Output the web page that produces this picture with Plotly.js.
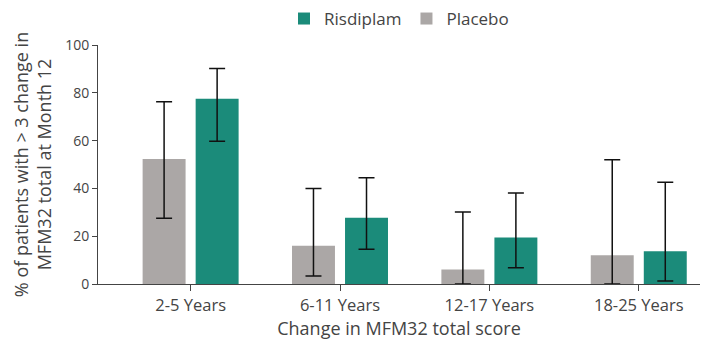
<!DOCTYPE html>
<html><head><meta charset="utf-8">
<script src="https://cdn.plot.ly/plotly-3.0.1.min.js"></script>
<style>html,body{margin:0;padding:0;background:#fff}#chart{width:709px;height:345px}</style>
</head><body><div id="chart"></div>
<script>
const categories = ["2-5 Years", "6-11 Years", "12-17 Years", "18-25 Years"];
const placebo = [52.3, 16.0, 6.1, 12.0];
const placeboUpper = [76.3, 40.0, 30.1, 52.0];
const placeboLower = [27.5, 3.3, 0, 0];
const risdiplam = [77.5, 27.7, 19.5, 13.7];
const risdiplamUpper = [90.2, 44.5, 38.1, 42.6];
const risdiplamLower = [59.7, 14.5, 6.8, 1.3];

const diff = (a, b) => a.map((v, i) => v - b[i]);
const font = "Open Sans, Noto Sans, sans-serif";

const errStyle = {type: "data", symmetric: false, color: "#111", thickness: 1.5, width: 8};

const traces = [
  {type: "bar", name: "Placebo", x: categories, y: placebo, marker: {color: "#aba7a6"},
   error_y: Object.assign({array: diff(placeboUpper, placebo), arrayminus: diff(placebo, placeboLower)}, errStyle),
   legendrank: 2},
  {type: "bar", name: "Risdiplam", x: categories, y: risdiplam, marker: {color: "#1b8b7a"},
   error_y: Object.assign({array: diff(risdiplamUpper, risdiplam), arrayminus: diff(risdiplam, risdiplamLower)}, errStyle),
   legendrank: 1}
];

const layout = {
  width: 709, height: 345,
  margin: {l: 98, r: 9, t: 45, b: 61, autoexpand: false},
  paper_bgcolor: "#fff", plot_bgcolor: "#fff",
  font: {family: font, color: "#444", size: 12},
  barmode: "group", bargap: 0.29, bargroupgap: 0.19,
  showlegend: true,
  legend: {orientation: "h", x: 0.5, xanchor: "center", yref: "container", y: 0.945, yanchor: "middle",
           font: {size: 17, color: "#444"}, itemwidth: 30, traceorder: "normal"},
  xaxis: {type: "category", range: [-0.62, 3.41], showline: true, linecolor: "#444", linewidth: 1,
          ticks: "outside", ticklen: 6, tickcolor: "#444", showgrid: false, zeroline: false,
          tickfont: {size: 16.5, color: "#444"},
          title: {text: "Change in MFM32 total score", font: {size: 18, color: "#444"}, standoff: 6}},
  yaxis: {range: [0, 100], dtick: 20, showline: true, linecolor: "#444", linewidth: 1,
          ticks: "outside", ticklen: 5, tickcolor: "#444", showgrid: false, zeroline: false,
          tickfont: {size: 14, color: "#444"},
          title: {text: "% of patients with > 3 change in<br>MFM32 total at Month 12", font: {size: 18, color: "#444"}, standoff: 8}}
};

Plotly.newPlot("chart", traces, layout, {displayModeBar: false, staticPlot: true});
</script></body></html>
